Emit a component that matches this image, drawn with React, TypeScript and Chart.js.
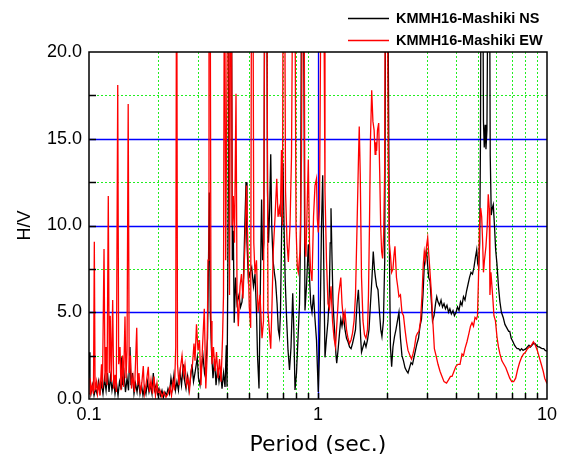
import React, { useEffect, useRef } from 'react';
import { Chart, registerables } from 'chart.js';

Chart.register(...registerables);

const seriesLabels = ['KMMH16-Mashiki NS', 'KMMH16-Mashiki EW'];
const seriesColors = ['#000000', '#ff0000'];

const xTickValues = [0.1, 0.2, 0.3, 0.4, 0.5, 0.6, 0.7, 0.8, 0.9, 1, 2, 3, 4, 5, 6, 7, 8, 9, 10];
const xTickLabels = [0.1, 1, 10];
const xMinorGrid = [0.2, 0.3, 0.4, 0.5, 0.6, 0.7, 0.8, 0.9, 2, 3, 4, 5, 6, 7, 8, 9];
const xMajorGrid = [1];
const yTickValues = [0, 5, 10, 15, 20];
const yMajorGrid = [5, 10, 15];
const yMinorGrid = [2.5, 7.5, 12.5, 17.5];

const nsPeriod = [
  0.100, 0.101, 0.102, 0.1036, 0.1052, 0.1068, 0.1084, 0.1100, 0.1117, 0.1134,
  0.1151, 0.1169, 0.1187, 0.1205, 0.1223, 0.1241, 0.1260, 0.1280, 0.1299, 0.1319,
  0.1339, 0.1359, 0.1380, 0.1387, 0.1398, 0.1422, 0.1443, 0.1466, 0.1488, 0.1510,
  0.1525, 0.1549, 0.1572, 0.1596, 0.1621, 0.1645, 0.1670, 0.1696, 0.1721, 0.1747,
  0.1773, 0.1800, 0.1828, 0.1855, 0.1884, 0.1909, 0.1933, 0.1962, 0.1991, 0.2021,
  0.2052, 0.2083, 0.2115, 0.2146, 0.2179, 0.2213, 0.2246, 0.2280, 0.2315, 0.2350,
  0.2385, 0.2421, 0.2458, 0.2497, 0.2535, 0.2580, 0.2612, 0.2652, 0.2692, 0.2733,
  0.2774, 0.2817, 0.2860, 0.2903, 0.2971, 0.3007, 0.3053, 0.3099, 0.3146, 0.3195,
  0.3243, 0.3293, 0.3326, 0.3352, 0.3386, 0.3427, 0.3479, 0.3533, 0.3587, 0.3642,
  0.3696, 0.3753, 0.3810, 0.3867, 0.3926, 0.3978, 0.4007, 0.4060, 0.4099, 0.4146,
  0.4188, 0.4226, 0.4268, 0.4306, 0.4364, 0.4430, 0.4519, 0.4588, 0.4658, 0.4729,
  0.4792, 0.4849, 0.4897, 0.4964, 0.5048, 0.5134, 0.5227, 0.5307, 0.5388, 0.5443,
  0.5526, 0.5582, 0.5671, 0.5731, 0.5800, 0.5869, 0.5958, 0.6018, 0.6079, 0.6153,
  0.6217, 0.6280, 0.6362, 0.6446, 0.6525, 0.6627, 0.6709, 0.6787, 0.6857, 0.6943,
  0.7031, 0.7107, 0.7192, 0.7300, 0.7398, 0.7510, 0.7624, 0.7756, 0.7841, 0.7936,
  0.8056, 0.8179, 0.8303, 0.8403, 0.8489, 0.8584, 0.8671, 0.8773, 0.8907, 0.9071,
  0.9182, 0.9295, 0.9415, 0.9560, 0.9703, 0.9850, 0.9930, 1.003, 1.0137, 1.0255,
  1.0358, 1.0484, 1.0590, 1.0728, 1.0890, 1.1058, 1.1200, 1.1305, 1.1396, 1.1520,
  1.1633, 1.1807, 1.1987, 1.2070, 1.2230, 1.2415, 1.2578, 1.2730, 1.2924, 1.3121,
  1.3320, 1.352, 1.373, 1.394, 1.415, 1.437, 1.458, 1.481, 1.501, 1.518,
  1.536, 1.549, 1.572, 1.596, 1.620, 1.645, 1.670, 1.695, 1.721, 1.743,
  1.764, 1.782, 1.803, 1.828, 1.856, 1.880, 1.902, 1.931, 1.956, 1.979,
  2.005, 2.027, 2.052, 2.072, 2.097, 2.125, 2.158, 2.190, 2.223, 2.257,
  2.291, 2.326, 2.362, 2.399, 2.441, 2.472, 2.510, 2.548, 2.586, 2.625,
  2.665, 2.706, 2.747, 2.789, 2.831, 2.874, 2.909, 2.938, 2.977, 3.007,
  3.044, 3.084, 3.131, 3.163, 3.212, 3.261, 3.300, 3.342, 3.394, 3.446,
  3.497, 3.550, 3.602, 3.657, 3.715, 3.766, 3.823, 3.886, 3.942, 4.007,
  4.066, 4.128, 4.191, 4.254, 4.318, 4.384, 4.451, 4.519, 4.587, 4.657,
  4.728, 4.800, 4.873, 4.932, 4.982, 5.032, 5.083, 5.123, 5.164, 5.226,
  5.279, 5.321, 5.369, 5.413, 5.467, 5.522, 5.595, 5.651, 5.709, 5.768,
  5.826, 5.896, 5.967, 6.045, 6.137, 6.229, 6.323, 6.438, 6.550, 6.675,
  6.803, 6.876, 6.978, 7.105, 7.211, 7.297, 7.406, 7.517, 7.630, 7.744,
  7.860, 7.977, 8.097, 8.217, 8.340, 8.465, 8.592, 8.720, 8.851, 8.983,
  9.118, 9.254, 9.393, 9.533, 9.676, 9.820, 10.0,
];
const nsHV = [
  2.7, 1.0, 0.3, 0.8, 0.2, 0.6, 0.3, 1.0, 0.4, 0.9,
  0.3, 1.2, 0.5, 1.5, 0.4, 1.3, 0.5, 1.1, 0.3, 0.9,
  0.2, 1.0, 0.6, 2.4, 0.8, 1.5, 0.4, 1.2, 0.5, 3.0,
  0.8, 1.5, 0.3, 0.9, 0.4, 1.1, 0.3, 0.8, 0.2, 0.7,
  0.3, 1.0, 0.4, 0.8, 0.3, 1.5, 0.5, 0.8, 0.3, 0.6,
  0.2, 0.5, 0.1, 0.4, 0.2, 0.6, 0.3, 1.2, 0.6, 1.4,
  0.5, 1.0, 0.5, 1.5, 0.8, 2.0, 1.1, 0.6, 1.3, 0.5,
  1.2, 2.0, 1.0, 1.5, 2.4, 1.2, 0.8, 1.8, 2.5, 1.5,
  2.0, 3.5, 8.0, 11.9, 5.0, 2.8, 1.2, 2.3, 0.8, 1.8,
  1.0, 1.6, 0.6, 1.5, 0.7, 3.1, 0.7, 12.0, 30, 30,
  25, 8.0, 9.7, 4.4, 7.0, 5.5, 6.0, 5.3, 5.6, 7.0,
  10.0, 12.5, 9.0, 6.9, 7.3, 7.6, 6.5, 7.2, 5.0, 2.5,
  0.6, 5.0, 11.5, 8.0, 9.0, 30, 30, 12.0, 9.0, 11.0,
  14.1, 10.0, 8.0, 7.3, 6.8, 5.5, 4.0, 3.6, 5.0, 10.0,
  13.6, 10.0, 6.8, 4.5, 2.8, 1.67, 3.0, 6.1, 4.0, 0.52,
  1.5, 3.5, 5.5, 10.0, 30, 30, 20, 5.1, 6.5, 8.9,
  7.0, 5.5, 5.0, 6.0, 4.6, 3.4, 2.0, 0.4, 2.5, 6.0,
  10.0, 12.9, 8.0, 2.4, 3.5, 4.5, 6.0, 9.0, 11.0, 8.0,
  5.5, 4.0, 2.5, 2.07, 2.8, 3.8, 4.6, 4.2, 4.8, 4.0,
  3.5, 3.3, 3.0, 2.9, 3.2, 3.6, 4.0, 5.5, 6.3, 5.0,
  3.5, 2.7, 3.0, 3.3, 3.0, 3.4, 4.0, 5.5, 7.0, 8.5,
  7.5, 7.0, 6.5, 6.3, 5.0, 4.0, 3.6, 4.5, 8.0, 30,
  30, 20, 8.0, 3.0, 1.86, 3.0, 3.6, 4.0, 4.5, 5.0,
  3.5, 2.5, 2.2, 1.8, 1.6, 1.5, 1.8, 2.1, 2.0, 2.4,
  2.8, 3.2, 3.5, 4.2, 4.6, 6.0, 7.6, 8.1, 8.6, 7.8,
  7.0, 6.8, 5.5, 4.5, 4.8, 5.5, 5.9, 5.6, 5.4, 5.7,
  5.3, 5.5, 5.2, 5.4, 5.0, 5.2, 4.9, 5.1, 4.8, 5.0,
  5.3, 5.1, 5.6, 5.4, 5.9, 5.7, 6.2, 6.6, 7.0, 7.3,
  7.2, 7.6, 8.2, 8.6, 7.8, 7.6, 9.0, 15.0, 30, 30,
  16.0, 14.5, 15.8, 14.4, 15.5, 25, 30, 14.0, 10.6, 11.0,
  11.2, 10.0, 8.6, 7.8, 6.5, 5.6, 5.0, 4.7, 4.3, 4.1,
  3.9, 3.9, 3.5, 3.3, 3.1, 3.0, 2.9, 2.9, 2.8, 2.9,
  2.8, 2.85, 2.9, 3.0, 3.1, 3.0, 3.1, 3.2, 3.2, 3.1,
  3.0, 3.0, 2.95, 2.9, 2.9, 2.8, 2.75,
];

const ewPeriod = [
  0.100, 0.101, 0.102, 0.1031, 0.1046, 0.1055, 0.1063, 0.1079, 0.1089, 0.1106,
  0.1117, 0.1134, 0.1145, 0.1163, 0.1175, 0.1187, 0.1199, 0.1214, 0.1226, 0.1238,
  0.1251, 0.1269, 0.1282, 0.1299, 0.1316, 0.1335, 0.1348, 0.1366, 0.1380, 0.1401,
  0.1415, 0.1436, 0.1451, 0.1466, 0.1483, 0.1498, 0.1518, 0.1533, 0.1556, 0.1580,
  0.1616, 0.1632, 0.1653, 0.1678, 0.1703, 0.1726, 0.1747, 0.1773, 0.1815, 0.1837,
  0.1865, 0.1894, 0.1922, 0.1951, 0.1981, 0.2011, 0.2042, 0.2083, 0.2125, 0.2168,
  0.2213, 0.2258, 0.2292, 0.2327, 0.2362, 0.2392, 0.2414, 0.2435, 0.2472, 0.2509,
  0.2548, 0.2586, 0.2625, 0.2665, 0.2706, 0.2747, 0.2789, 0.2831, 0.2874, 0.2903,
  0.2947, 0.2992, 0.3037, 0.3083, 0.3130, 0.3188, 0.3236, 0.3280, 0.3309, 0.3342,
  0.3376, 0.3410, 0.3444, 0.3496, 0.3551, 0.3604, 0.3660, 0.3715, 0.3772, 0.3829,
  0.3867, 0.3906, 0.3953, 0.4060, 0.4107, 0.4170, 0.4225, 0.4268, 0.4319, 0.4385,
  0.4430, 0.4487, 0.4565, 0.4633, 0.4704, 0.4800, 0.4872, 0.4935, 0.5011, 0.5082,
  0.5134, 0.5186, 0.5243, 0.5307, 0.5388, 0.5471, 0.5582, 0.5695, 0.5781, 0.5869,
  0.5958, 0.6049, 0.6217, 0.6299, 0.6381, 0.6493, 0.6606, 0.6690, 0.6777, 0.6845,
  0.6928, 0.6998, 0.7054, 0.7127, 0.7214, 0.7325, 0.7423, 0.7548, 0.7662, 0.7802,
  0.7896, 0.8016, 0.8121, 0.8203, 0.8344, 0.8470, 0.8573, 0.8668, 0.8773, 0.8858,
  0.9071, 0.918, 0.9275, 0.9415, 0.956, 0.9703, 0.985, 0.993, 1.003, 1.0152,
  1.0255, 1.0358, 1.0515, 1.0622, 1.0728, 1.0890, 1.1058, 1.1228, 1.1396, 1.1573,
  1.1749, 1.1928, 1.2110, 1.2297, 1.2578, 1.2730, 1.2924, 1.3121, 1.3320, 1.352,
  1.373, 1.394, 1.415, 1.437, 1.458, 1.481, 1.503, 1.514, 1.529, 1.549,
  1.572, 1.596, 1.620, 1.645, 1.661, 1.678, 1.695, 1.716, 1.737, 1.758,
  1.776, 1.790, 1.803, 1.819, 1.841, 1.860, 1.878, 1.896, 1.915, 1.935,
  1.954, 1.973, 1.999, 2.027, 2.047, 2.072, 2.097, 2.125, 2.147, 2.168,
  2.201, 2.228, 2.257, 2.291, 2.326, 2.362, 2.399, 2.436, 2.472, 2.522,
  2.561, 2.599, 2.639, 2.680, 2.720, 2.761, 2.804, 2.846, 2.883, 2.912,
  2.947, 2.977, 3.013, 3.044, 3.084, 3.131, 3.163, 3.222, 3.277, 3.342,
  3.410, 3.479, 3.550, 3.641, 3.715, 3.790, 3.848, 3.926, 4.007, 4.087,
  4.170, 4.254, 4.318, 4.384, 4.473, 4.564, 4.633, 4.704, 4.776, 4.849,
  4.923, 4.972, 5.022, 5.072, 5.133, 5.185, 5.237, 5.279, 5.332, 5.413,
  5.484, 5.539, 5.595, 5.634, 5.691, 5.749, 5.807, 5.866, 5.955, 6.045,
  6.137, 6.229, 6.353, 6.480, 6.609, 6.741, 6.876, 7.014, 7.154, 7.297,
  7.443, 7.592, 7.744, 7.898, 8.056, 8.217, 8.382, 8.549, 8.720, 8.895,
  9.073, 9.254, 9.439, 9.628, 9.773, 10.0,
];
const ewHV = [
  0.3, 1.2, 0.4, 0.8, 0.3, 9.07, 0.5, 1.0, 0.3, 0.9,
  0.2, 2.0, 0.6, 8.65, 1.0, 3.0, 0.8, 11.7, 1.5, 4.8,
  1.0, 5.7, 0.6, 1.4, 0.4, 18.1, 2.0, 3.0, 0.5, 2.5,
  0.7, 4.75, 1.2, 2.8, 17.0, 1.5, 2.5, 0.6, 1.3, 0.4,
  4.1, 0.8, 1.5, 0.3, 1.0, 1.9, 0.3, 0.8, 1.86, 0.4,
  1.1, 0.3, 1.3, 0.2, 0.9, 0.2, 0.5, 0.1, 0.4, 0.1,
  0.3, 0.7, 0.2, 1.0, 0.5, 3.0, 30, 2.0, 0.8, 1.8,
  2.5, 1.4, 2.0, 0.8, 1.2, 0.5, 1.6, 2.0, 3.2, 2.2,
  4.3, 2.8, 3.4, 0.8, 3.0, 5.2, 0.6, 2.5, 8.0, 30,
  30, 4.5, 2.0, 3.0, 1.6, 2.7, 1.2, 2.3, 1.0, 3.5,
  6.0, 30, 8.0, 30, 6.0, 30, 10.0, 11.7, 9.0, 17.6,
  6.0, 4.2, 6.5, 7.2, 5.8, 9.0, 12.3, 9.0, 5.3, 4.1,
  30, 30, 9.0, 7.2, 8.0, 5.0, 6.0, 3.5, 4.5, 30,
  30, 5.0, 2.9, 5.5, 8.6, 10.5, 12.7, 10.5, 11.0, 10.5,
  14.35, 10.0, 30, 30, 12.0, 9.0, 7.9, 10.0, 14.0, 30,
  30, 10.0, 7.6, 7.3, 8.5, 14.0, 30, 30, 9.0, 8.2,
  13.8, 9.0, 7.5, 6.8, 10.5, 12.3, 12.7, 10.4, 9.6, 11.0,
  20, 30, 30, 22, 12.0, 8.0, 5.5, 5.2, 6.5, 4.5,
  3.5, 3.0, 4.5, 6.0, 7.0, 5.5, 4.5, 5.0, 4.0, 3.5,
  3.2, 3.4, 3.8, 4.5, 6.0, 10.0, 14.0, 15.7, 13.0, 7.0,
  4.5, 3.7, 3.5, 4.0, 6.0, 10.0, 15.0, 17.8, 16.0, 15.5,
  14.1, 14.8, 14.3, 15.5, 15.9, 13.0, 10.0, 8.5, 8.1, 9.5,
  13.0, 30, 30, 14.0, 9.0, 8.3, 7.3, 7.5, 8.3, 8.8,
  7.0, 6.5, 5.9, 6.0, 5.0, 4.8, 4.0, 3.3, 2.8, 2.5,
  2.3, 2.6, 3.0, 3.6, 3.8, 3.9, 4.5, 6.0, 7.8, 8.5,
  8.0, 8.8, 9.3, 8.4, 7.3, 6.0, 4.8, 2.9, 2.5, 2.0,
  1.6, 1.3, 1.0, 0.92, 1.1, 1.3, 1.3, 1.6, 1.9, 2.0,
  2.0, 2.6, 2.5, 2.9, 3.3, 3.8, 4.2, 4.4, 4.2, 4.7,
  4.6, 4.8, 7.0, 10.0, 11.0, 10.5, 9.0, 7.3, 8.0, 8.8,
  10.0, 11.8, 11.0, 6.0, 7.3, 6.5, 5.7, 4.8, 4.5, 3.6,
  3.0, 2.6, 2.2, 2.0, 1.8, 1.5, 1.2, 1.0, 1.0, 1.2,
  1.7, 2.1, 2.4, 2.6, 2.7, 2.9, 3.0, 3.1, 3.3, 3.1,
  2.8, 2.4, 2.0, 1.6, 1.2, 0.9,
];

const toPoints = (px: number[], py: number[]) => px.map((p, i) => ({ x: p, y: py[i] }));

const gridPlugin = {
  id: 'hvGrid',
  beforeDatasetsDraw(chart: any) {
    const { ctx, chartArea: a, scales } = chart;
    const xs = scales.x;
    const ys = scales.y;
    ctx.save();
    ctx.lineWidth = 1;
    ctx.strokeStyle = '#22ee22';
    ctx.setLineDash([2, 2]);
    ctx.beginPath();
    xMinorGrid.forEach((v) => {
      const p = Math.round(xs.getPixelForValue(v)) + 0.5;
      ctx.moveTo(p, a.top);
      ctx.lineTo(p, a.bottom);
    });
    yMinorGrid.forEach((v) => {
      const p = Math.round(ys.getPixelForValue(v)) + 0.5;
      ctx.moveTo(a.left, p);
      ctx.lineTo(a.right, p);
    });
    ctx.stroke();
    ctx.setLineDash([]);
    ctx.strokeStyle = '#0000ff';
    ctx.lineWidth = 1.3;
    ctx.beginPath();
    yMajorGrid.forEach((v) => {
      const p = Math.round(ys.getPixelForValue(v)) + 0.5;
      ctx.moveTo(a.left, p);
      ctx.lineTo(a.right, p);
    });
    xMajorGrid.forEach((v) => {
      const p = Math.round(xs.getPixelForValue(v)) + 0.5;
      ctx.moveTo(p, a.top);
      ctx.lineTo(p, a.bottom);
    });
    ctx.stroke();
    ctx.restore();
  },
  afterDatasetsDraw(chart: any) {
    const { ctx, chartArea: a, scales } = chart;
    const xs = scales.x;
    const ys = scales.y;
    ctx.save();
    ctx.strokeStyle = '#000000';
    ctx.lineWidth = 1.5;
    ctx.strokeRect(a.left, a.top, a.right - a.left, a.bottom - a.top);
    ctx.lineWidth = 1.5;
    ctx.beginPath();
    [...yMinorGrid, ...yMajorGrid].forEach((v) => {
      const p = Math.round(ys.getPixelForValue(v)) + 0.5;
      ctx.moveTo(a.left, p);
      ctx.lineTo(a.left + 7, p);
    });
    [...xMinorGrid, ...xMajorGrid].forEach((v) => {
      const p = Math.round(xs.getPixelForValue(v)) + 0.5;
      ctx.moveTo(p, a.bottom);
      ctx.lineTo(p, a.bottom - 6);
    });
    ctx.stroke();
    ctx.restore();
  },
  afterDraw(chart: any) {
    const { ctx, chartArea: a } = chart;
    ctx.save();
    ctx.font = 'bold 14.5px "Liberation Sans", Arial, sans-serif';
    ctx.textAlign = 'left';
    ctx.textBaseline = 'middle';
    chart.data.datasets.forEach((ds: any, i: number) => {
      const y = 18 + i * 22;
      const x0 = a.right - 199;
      ctx.strokeStyle = ds.borderColor;
      ctx.lineWidth = 1.3;
      ctx.beginPath();
      ctx.moveTo(x0, y + 0.5);
      ctx.lineTo(x0 + 41, y + 0.5);
      ctx.stroke();
      ctx.fillStyle = '#000000';
      ctx.fillText(ds.label, x0 + 48, y + 1);
    });
    ctx.restore();
  },
};

function HVChart() {
  const canvasRef = useRef<HTMLCanvasElement | null>(null);

  useEffect(() => {
    if (!canvasRef.current) return;
    const chart = new Chart(canvasRef.current, {
      type: 'line',
      data: {
        datasets: [
          {
            label: seriesLabels[0],
            data: toPoints(nsPeriod, nsHV),
            borderColor: seriesColors[0],
            backgroundColor: seriesColors[0],
            borderWidth: 1.3,
            pointRadius: 0,
            tension: 0,
            order: 2,
          },
          {
            label: seriesLabels[1],
            data: toPoints(ewPeriod, ewHV),
            borderColor: seriesColors[1],
            backgroundColor: seriesColors[1],
            borderWidth: 1.3,
            pointRadius: 0,
            tension: 0,
            order: 1,
          },
        ],
      },
      options: {
        animation: false,
        responsive: true,
        maintainAspectRatio: false,
        layout: { padding: { left: 0, right: 19, top: 52, bottom: 0 } },
        plugins: {
          legend: { display: false },
          tooltip: { enabled: false },
        },
        scales: {
          x: {
            type: 'logarithmic',
            min: 0.1,
            max: 10,
            afterBuildTicks: (s: any) => {
              s.ticks = xTickValues.map((v) => ({ value: v }));
            },
            afterFit: (s: any) => {
              s.height = 64;
            },
            ticks: {
              autoSkip: false,
              maxRotation: 0,
              padding: 5,
              color: '#000000',
              font: { family: '"Liberation Sans", Arial, sans-serif', size: 18 },
              callback: (v: any) => (xTickLabels.includes(Number(v)) ? String(Number(v)) : ''),
            },
            grid: { display: false, drawTicks: false },
            border: { display: false },
            title: {
              display: true,
              text: 'Period (sec.)',
              color: '#000000',
              font: { family: '"DejaVu Sans", Verdana, sans-serif', size: 22 },
              padding: { top: 0, bottom: 5 },
            },
          },
          y: {
            type: 'linear',
            min: 0,
            max: 20,
            afterBuildTicks: (s: any) => {
              s.ticks = yTickValues.map((v) => ({ value: v }));
            },
            afterFit: (s: any) => {
              s.width = 89;
            },
            ticks: {
              padding: 7,
              color: '#000000',
              font: { family: '"Liberation Sans", Arial, sans-serif', size: 18 },
              callback: (v: any) => Number(v).toFixed(1),
            },
            grid: { display: false, drawTicks: false },
            border: { display: false },
            title: {
              display: true,
              text: 'H/V',
              color: '#000000',
              font: { family: '"Liberation Sans", Arial, sans-serif', size: 18 },
              padding: { top: 14, bottom: 0 },
            },
          },
        },
      },
      plugins: [gridPlugin],
    });
    return () => chart.destroy();
  }, []);

  return (
    <div style={{ position: 'fixed', left: 0, top: 0, width: 566, height: 463, background: '#ffffff' }}>
      <canvas ref={canvasRef} />
    </div>
  );
}

export default function App() {
  return <HVChart />;
}
